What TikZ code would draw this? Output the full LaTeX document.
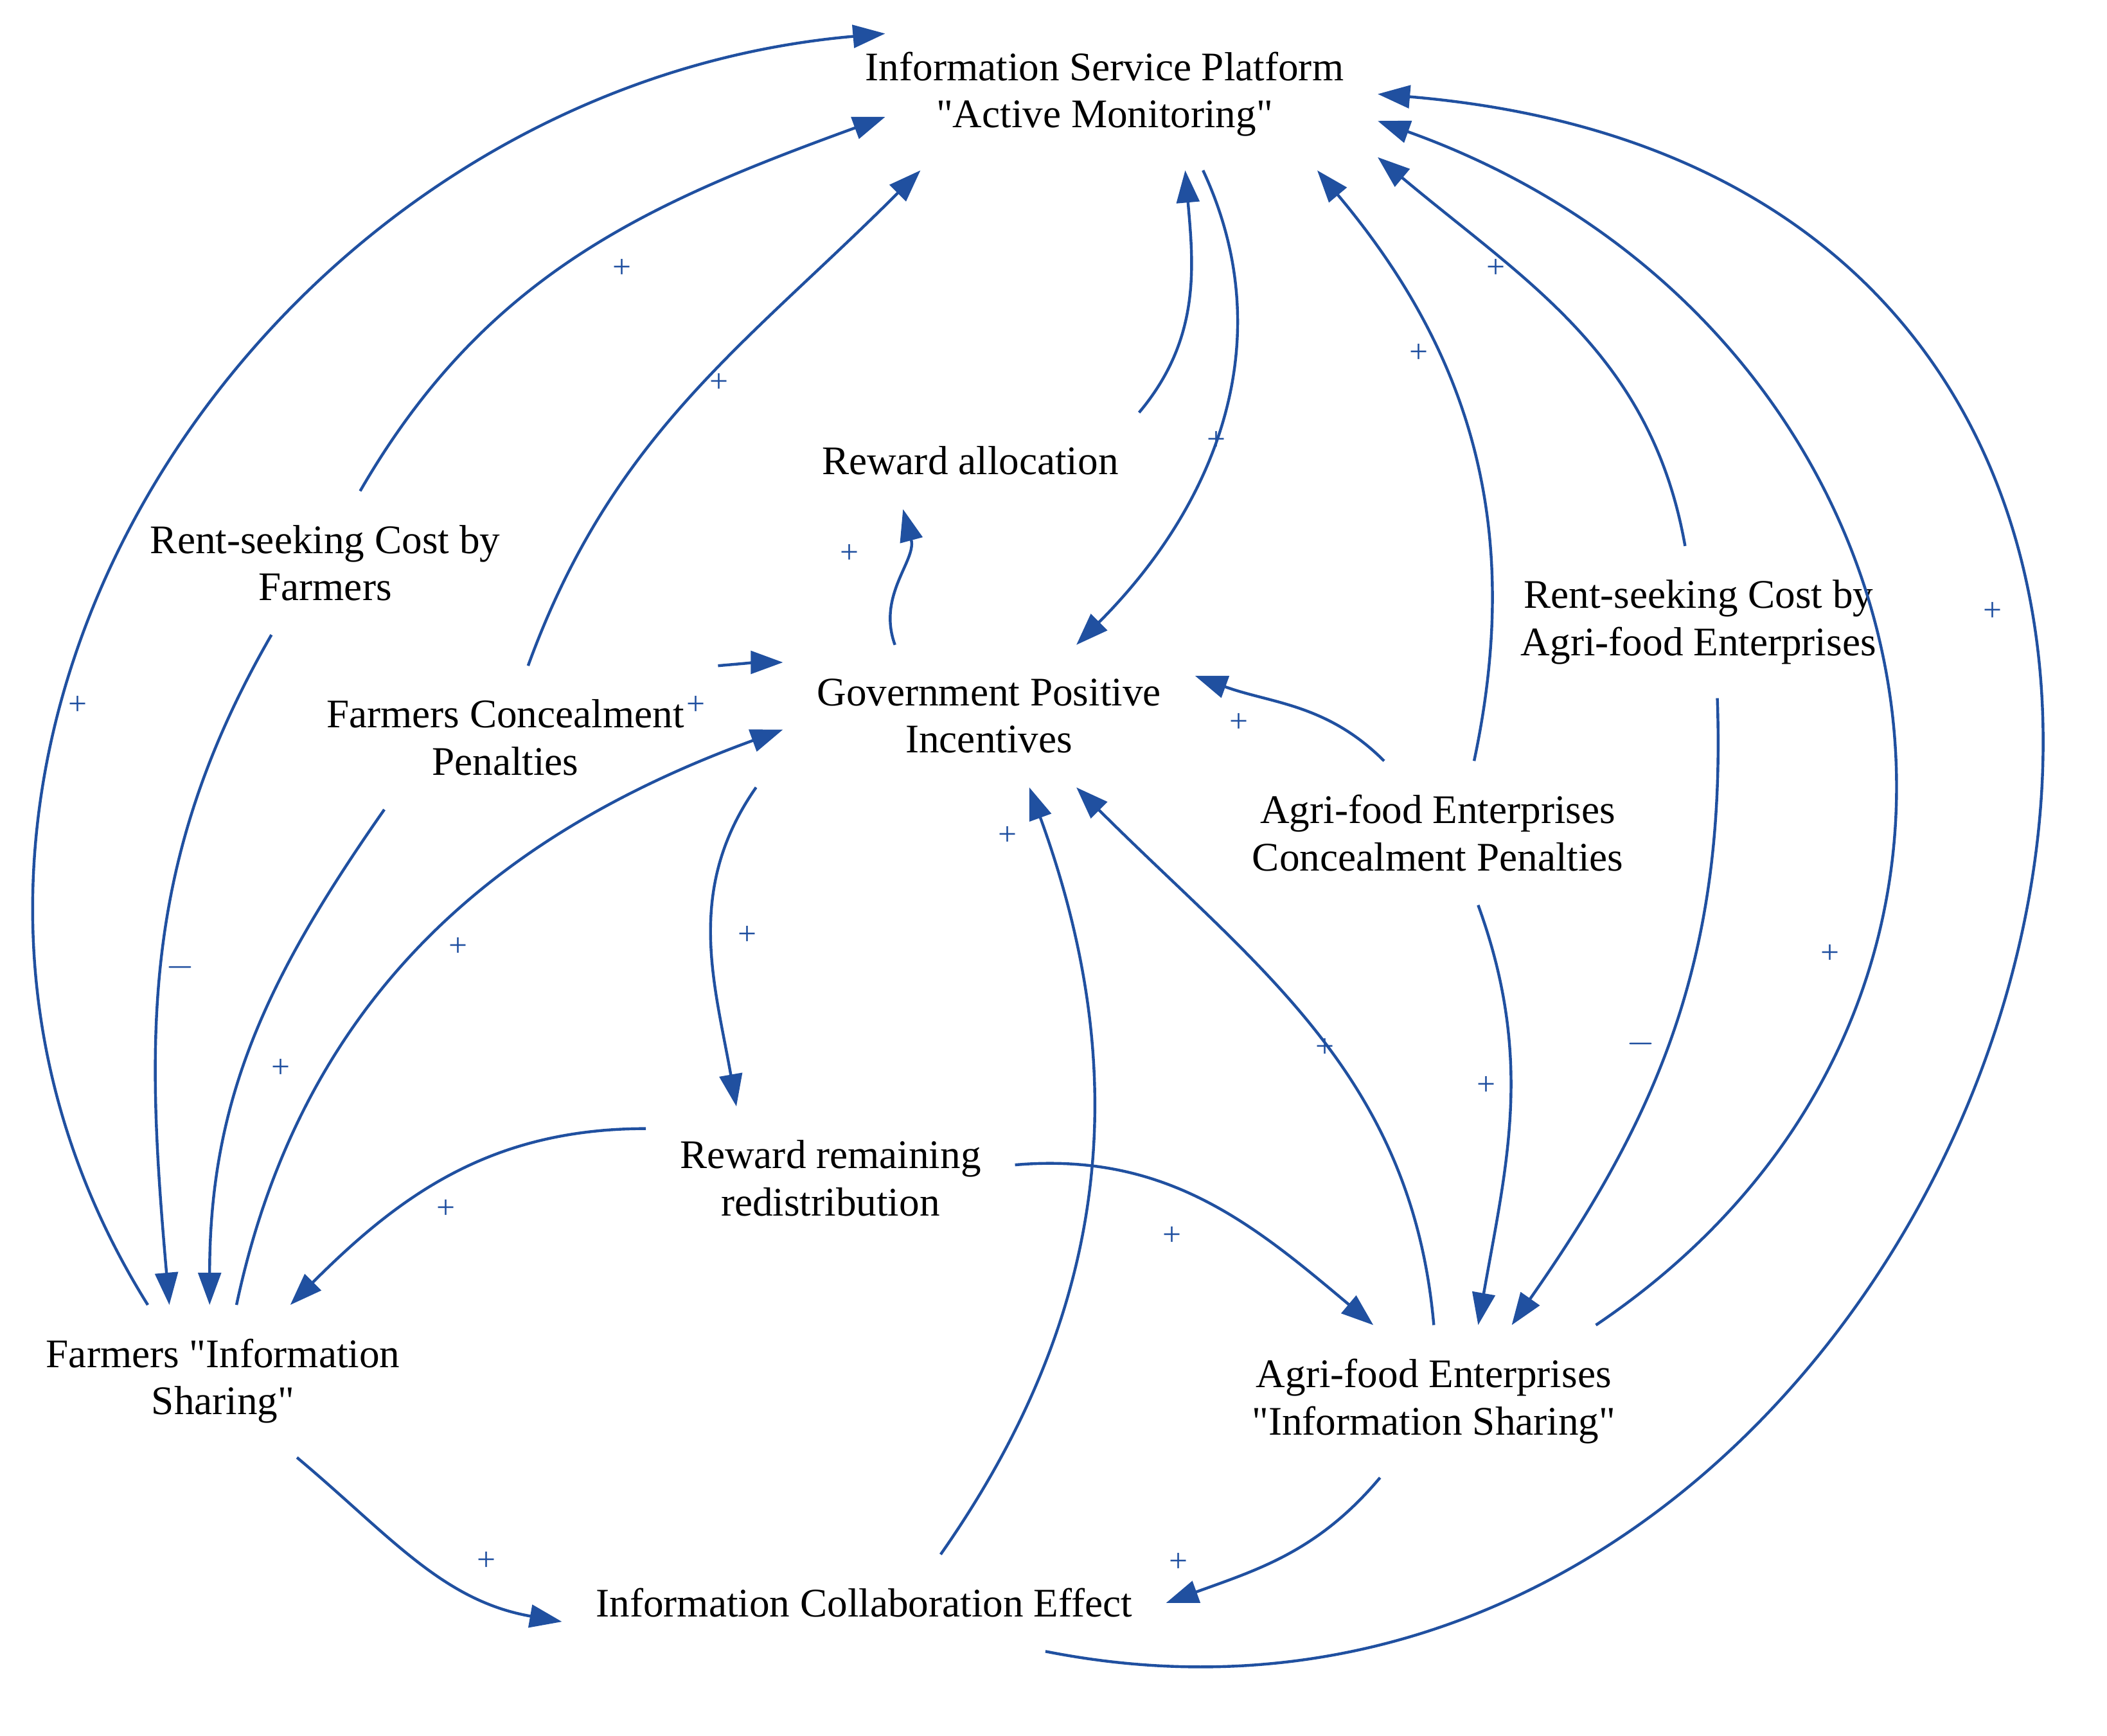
\documentclass[tikz,border=0pt]{standalone}
\usepackage{fontspec}
\setmainfont{Liberation Serif}
\usetikzlibrary{arrows.meta}
\definecolor{cldblue}{RGB}{32,80,160}
\tikzset{
  var/.style={align=center, inner sep=7pt, font=\fontsize{8.6}{10}\selectfont},
  link/.style={draw=cldblue, line width=0.6pt, -{Triangle[length=2.4mm,width=1.7mm]}},
  sign/.style={text=cldblue, font=\fontsize{7}{8}\selectfont, inner sep=0pt}
}
\newcommand{\qq}{\textquotedbl}
\begin{document}
\begin{tikzpicture}
 \useasboundingbox (0,0) rectangle (15.68,12.92);
 % variables
 \node[var] (isp) at (8.22,12.22) {Information Service Platform\\\qq Active Monitoring\qq};
 \node[var] (ral) at (7.22,9.49) {Reward allocation};
 \node[var] (rsF) at (2.42,8.73) {Rent-seeking Cost by\\Farmers};
 \node[var] (fcp) at (3.76,7.43) {Farmers Concealment\\Penalties};
 \node[var] (gov) at (7.36,7.59) {Government Positive\\Incentives};
 \node[var] (rsA) at (12.64,8.29) {Rent-seeking Cost by\\Agri-food Enterprises};
 \node[var] (acp) at (10.70,6.72) {Agri-food Enterprises\\Concealment Penalties};
 \node[var] (rr) at (6.18,4.15) {Reward remaining\\redistribution};
 \node[var] (farmIS) at (1.66,2.64) {Farmers \qq Information\\Sharing\qq};
 \node[var] (agIS) at (10.67,2.49) {Agri-food Enterprises\\\qq Information Sharing\qq};
 \node[var] (col) at (6.43,0.99) {Information Collaboration Effect};
 % links
 \draw[link] ([xshift=-5.6mm]farmIS.north) to[out=122,in=185,looseness=1.1] ([shift={(4mm,4.5mm)}]isp.west);
 \draw[link] ([xshift=2.6mm]rsF.north) to[out=60,in=200] ([shift={(4mm,-1.7mm)}]isp.west);
 \draw[link] ([xshift=-4mm]rsF.south) to[out=240,in=95] ([xshift=-4mm]farmIS.north);
 \draw[link] ([xshift=1.7mm]fcp.north) to[out=70,in=225] ([xshift=-13.7mm]isp.south);
 \draw[link] ([xshift=-9mm]fcp.south) to[out=235,in=90] ([xshift=-1mm]farmIS.north);
 \draw[link] (fcp.north east) to[out=5,in=180] ([yshift=4mm]gov.west);
 \draw[link] ([xshift=1mm]farmIS.north) to[out=78,in=200] ([yshift=-1mm]gov.west);
 \draw[link] ([xshift=-13mm]isp.south east) to[out=-65,in=45] ([xshift=6.5mm]gov.north);
 \draw[link] ([xshift=-1mm]ral.north east) to[out=50,in=-85] ([xshift=6mm]isp.south);
 \draw[link] ([xshift=-7mm]gov.north) to[out=110,in=-75] ([xshift=-5mm]ral.south);
 \draw[link] ([xshift=-2mm]gov.south west) to[out=235,in=100] ([xshift=-7mm]rr.north);
 \draw[link] ([yshift=3.7mm]rr.west) to[out=180,in=45] ([xshift=5mm]farmIS.north);
 \draw[link] ([yshift=1mm]rr.east) to[out=5,in=140] ([xshift=-4.5mm]agIS.north);
 \draw[link] ([xshift=5.7mm]col.north) to[out=55,in=-70] ([xshift=3mm]gov.south);
 \draw[link] ([xshift=5.5mm]farmIS.south) to[out=-40,in=170] ([yshift=-1.4mm]col.west);
 \draw[link] ([xshift=-4mm]agIS.south) to[out=-130,in=20] (col.east);
 \draw[link] ([xshift=13.5mm]col.south) .. controls (15.0,-0.8) and (18.8,11.5) .. (isp.east);
 \draw[link] ([xshift=-4mm]agIS.north east) .. controls (15.5,5.5) and (14.5,10.5) .. ([yshift=-2mm]isp.east);
 \draw[link] ([xshift=-1mm]rsA.north) to[out=100,in=-40] ([yshift=-4.7mm]isp.east);
 \draw[link] ([xshift=1.4mm]rsA.south) to[out=-88,in=55] ([xshift=5.8mm]agIS.north);
 \draw[link] ([xshift=2.7mm]acp.north) to[out=78,in=-50] ([xshift=-4.5mm]isp.south east);
 \draw[link] ([xshift=-4mm]acp.north) to[out=135,in=-20] ([yshift=3mm]gov.east);
 \draw[link] ([xshift=3mm]acp.south) to[out=-70,in=80] ([xshift=3.3mm]agIS.north);
 \draw[link] (agIS.north) to[out=95,in=-45] ([xshift=6.5mm]gov.south);
 % polarities
 \node[sign] at (0.58,7.67) {+};
 \node[sign] at (4.63,10.92) {+};
 \node[sign] at (1.34,5.72) {$-$};
 \node[sign] at (5.35,10.07) {+};
 \node[sign] at (2.09,4.97) {+};
 \node[sign] at (5.18,7.67) {+};
 \node[sign] at (3.41,5.87) {+};
 \node[sign] at (9.05,9.64) {+};
 \node[sign] at (6.32,8.80) {+};
 \node[sign] at (5.56,5.96) {+};
 \node[sign] at (3.32,3.92) {+};
 \node[sign] at (8.72,3.72) {+};
 \node[sign] at (7.50,6.70) {+};
 \node[sign] at (3.62,1.30) {+};
 \node[sign] at (8.77,1.29) {+};
 \node[sign] at (14.83,8.37) {+};
 \node[sign] at (13.62,5.82) {+};
 \node[sign] at (11.13,10.92) {+};
 \node[sign] at (12.21,5.15) {$-$};
 \node[sign] at (10.56,10.29) {+};
 \node[sign] at (9.22,7.54) {+};
 \node[sign] at (11.06,4.84) {+};
 \node[sign] at (9.86,5.12) {+};
\end{tikzpicture}
\end{document}
